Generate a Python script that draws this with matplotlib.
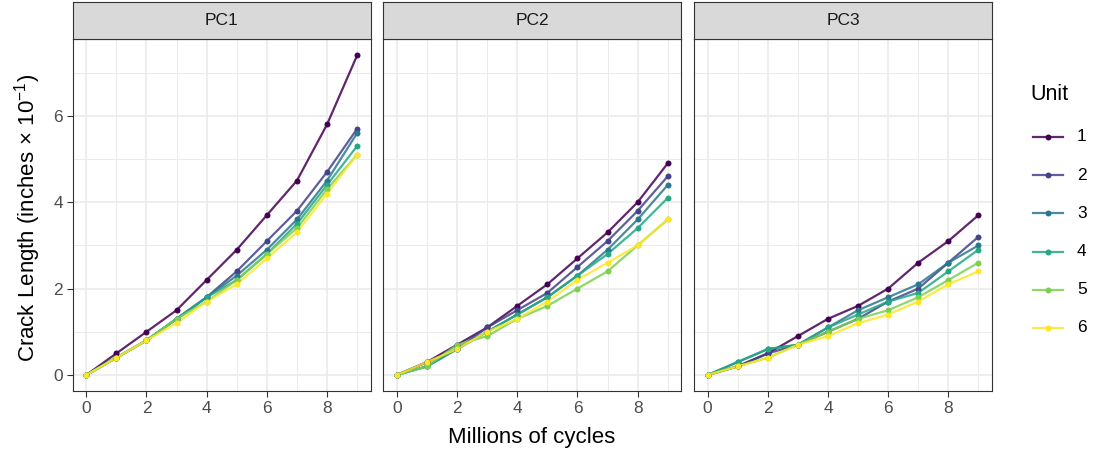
import matplotlib
matplotlib.use("Agg")
import matplotlib.pyplot as plt
from matplotlib.lines import Line2D
import numpy as np

plt.rcParams['font.family'] = ['Liberation Sans', 'DejaVu Sans']
plt.rcParams['mathtext.fontset'] = 'custom'
plt.rcParams['mathtext.rm'] = 'Liberation Sans'
plt.rcParams['mathtext.it'] = 'Liberation Sans:italic'

cycles = [0, 1, 2, 3, 4, 5, 6, 7, 8, 9]
units = ["1", "2", "3", "4", "5", "6"]
panels = ["PC1", "PC2", "PC3"]

pc1 = {
    "1": [0, 0.5, 1.0, 1.5, 2.2, 2.9, 3.7, 4.5, 5.8, 7.4],
    "2": [0, 0.4, 0.8, 1.3, 1.8, 2.4, 3.1, 3.8, 4.7, 5.7],
    "3": [0, 0.4, 0.8, 1.3, 1.8, 2.3, 2.9, 3.6, 4.5, 5.6],
    "4": [0, 0.4, 0.8, 1.3, 1.8, 2.2, 2.8, 3.5, 4.4, 5.3],
    "5": [0, 0.4, 0.8, 1.3, 1.7, 2.2, 2.8, 3.4, 4.3, 5.1],
    "6": [0, 0.4, 0.8, 1.2, 1.7, 2.1, 2.7, 3.3, 4.2, 5.1],
}
pc2 = {
    "1": [0, 0.3, 0.7, 1.1, 1.6, 2.1, 2.7, 3.3, 4.0, 4.9],
    "2": [0, 0.3, 0.6, 1.1, 1.5, 1.9, 2.5, 3.1, 3.8, 4.6],
    "3": [0, 0.2, 0.6, 1.0, 1.4, 1.8, 2.3, 2.9, 3.6, 4.4],
    "4": [0, 0.2, 0.6, 1.0, 1.4, 1.8, 2.3, 2.8, 3.4, 4.1],
    "5": [0, 0.2, 0.7, 0.9, 1.3, 1.6, 2.0, 2.4, 3.0, 3.6],
    "6": [0, 0.3, 0.6, 1.0, 1.3, 1.7, 2.2, 2.6, 3.0, 3.6],
}
pc3 = {
    "1": [0, 0.2, 0.5, 0.9, 1.3, 1.6, 2.0, 2.6, 3.1, 3.7],
    "2": [0, 0.2, 0.5, 0.7, 1.0, 1.3, 1.7, 2.0, 2.6, 3.2],
    "3": [0, 0.3, 0.6, 0.7, 1.1, 1.5, 1.8, 2.1, 2.6, 3.0],
    "4": [0, 0.3, 0.6, 0.7, 1.1, 1.4, 1.7, 1.9, 2.4, 2.9],
    "5": [0, 0.2, 0.4, 0.7, 1.0, 1.3, 1.5, 1.8, 2.2, 2.6],
    "6": [0, 0.2, 0.4, 0.7, 0.9, 1.2, 1.4, 1.7, 2.1, 2.4],
}
data = [pc1, pc2, pc3]
colors = ["#440154", "#414487", "#2A788E", "#22A884", "#7AD151", "#FDE725"]

W, H = 1096, 457
fig = plt.figure(figsize=(W / 100, H / 100), dpi=100)

lefts = [72.7, 383.3, 694.0]
pw = 298.0
ax_bot = 391.0
ax_top = 39.3
strip_top = 2.0

for i, (name, d) in enumerate(zip(panels, data)):
    ax = fig.add_axes([lefts[i] / W, (H - ax_bot) / H, pw / W, (ax_bot - ax_top) / H])
    ax.set_xlim(-0.45, 9.45)
    ax.set_ylim(-0.37, 7.77)
    ax.set_xticks([0, 2, 4, 6, 8])
    ax.set_xticks([1, 3, 5, 7, 9], minor=True)
    ax.set_yticks([0, 2, 4, 6])
    ax.set_yticks([1, 3, 5, 7], minor=True)
    ax.grid(which='major', color='#EBEBEB', linewidth=1.2)
    ax.grid(which='minor', color='#EBEBEB', linewidth=0.7)
    ax.set_axisbelow(True)
    for s in ax.spines.values():
        s.set_color('#333333')
        s.set_linewidth(0.8)
    ax.tick_params(which='major', direction='out', length=4, width=0.8, color='#333333',
                   labelsize=12.5, labelcolor='#4D4D4D', pad=3)
    ax.tick_params(which='minor', length=0)
    if i > 0:
        ax.tick_params(axis='y', labelleft=False, length=0)
    for u, c in zip(units, colors):
        ax.plot(cycles, d[u], color=c, linewidth=1.6, alpha=0.85, zorder=3)
        ax.plot(cycles, d[u], linestyle='none', marker='o', markersize=4.3,
                color=c, markeredgewidth=0, zorder=4)
    # strip
    sax = fig.add_axes([lefts[i] / W, (H - ax_top) / H, pw / W, (ax_top - strip_top) / H])
    sax.set_facecolor('#D9D9D9')
    sax.set_xticks([])
    sax.set_yticks([])
    for s in sax.spines.values():
        s.set_color('#333333')
        s.set_linewidth(0.8)
    sax.text(0.5, 0.5, name, ha='center', va='center', fontsize=12.5, color='#1A1A1A',
             transform=sax.transAxes)

fig.text(532 / W, 1 - 437 / H, "Millions of cycles", ha='center', va='center', fontsize=16)
fig.text(28 / W, 1 - 218 / H, r"Crack Length (inches$\,\times\,10^{-1}$)", ha='center',
         va='center', rotation=90, fontsize=16)

# legend
fig.text(1030 / W, 1 - 95 / H, "Unit", ha='left', va='center', fontsize=15.5)
leg_y = [136.7, 175, 213, 251.7, 290, 328]
for u, c, y in zip(units, colors, leg_y):
    fy = 1 - y / H
    fig.add_artist(Line2D([1033 / W, 1063 / W], [fy, fy], color=c, linewidth=1.6, alpha=0.85))
    fig.add_artist(Line2D([1048 / W], [fy], marker='o', markersize=4.3, color=c,
                          markeredgewidth=0, linestyle='none'))
    fig.text(1077 / W, fy, u, ha='left', va='center', fontsize=12.5)

fig.savefig("out.png", dpi=100)
